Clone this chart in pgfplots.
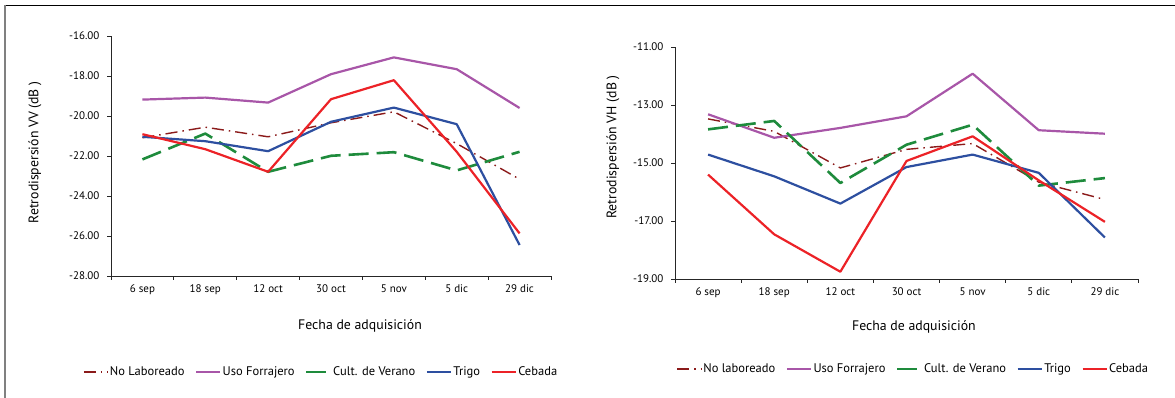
\documentclass[border=0pt]{standalone}
\usepackage{pgfplots}
\pgfplotsset{compat=1.18}
\usepackage{fontspec}
\setmainfont{PT Sans}
\definecolor{nolab}{HTML}{8B1A1A}
\definecolor{uso}{HTML}{A856A8}
\definecolor{cult}{HTML}{1E8B3C}
\definecolor{trigo}{HTML}{2D4FA0}
\definecolor{cebada}{HTML}{EC2227}

\pgfplotsset{
  mychart/.style={
    scale only axis,
    axis x line*=bottom, axis y line*=left,
    xtick pos=bottom, ytick pos=left,
    tick align=outside,
    major tick length=4pt,
    axis line style={black!85, line width=0.8pt},
    every tick/.style={black!85, line width=0.8pt},
    xmin=0.5, xmax=7.5,
    xtick={0.5,1.5,...,7.5},
    x tick label as interval,
    xticklabels={6 sep,18 sep,12 oct,30 oct,5 nov,5 dic,29 dic,},
    tick label style={font=\fontsize{11}{13}\selectfont},
    xticklabel style={yshift=-1pt},
    yticklabel style={xshift=-4pt},
    /pgf/number format/assume math mode=true,
    yticklabel style={/pgf/number format/fixed, /pgf/number format/fixed zerofill, /pgf/number format/precision=2},
    label style={font=\fontsize{13.8}{16}\selectfont},
    legend columns=-1,
    legend style={draw=none, fill=none, font=\fontsize{12.5}{14}\selectfont,
      /tikz/every even column/.append style={column sep=9pt},
      nodes={inner xsep=1.5pt}},
    legend image code/.code={\draw[#1] (0pt,0pt) -- (24pt,0pt);},
    every axis plot/.append style={line join=round},
  },
  snolab/.style={nolab, line width=1.4pt, dash pattern=on 12pt off 5pt on 1.5pt off 5pt},
  suso/.style={uso, line width=2.2pt},
  scult/.style={cult, line width=2.6pt, dash pattern=on 20pt off 8pt},
  strigo/.style={trigo, line width=2.2pt},
  sceb/.style={cebada, line width=2.2pt},
}

\begin{document}
\begin{tikzpicture}
\useasboundingbox (0pt,0pt) rectangle (1175pt,398pt);
\draw[black, line width=0.9pt] (5pt,393pt) -- (1175pt,393pt);
\draw[gray, line width=1.5pt] (5pt,393pt) -- (5pt,0pt);

% Left chart (VV)
\begin{axis}[mychart,
  at={(111pt,122pt)}, anchor=south west,
  width=440pt, height=240pt,
  ymin=-28, ymax=-16, ytick={-28,-26,...,-16},
  ylabel={Retrodispersión VV (dB )},
  ylabel style={at={(axis description cs:-0.173,0.515)}, anchor=center},
  xlabel={Fecha de adquisición},
  xlabel style={at={(axis description cs:0.566,-0.208)}, anchor=center},
  legend style={at={(axis description cs:0.477,-0.40)}, anchor=center},
]
\addplot[snolab] coordinates {(1,-21.09) (2,-20.56) (3,-21.04) (4,-20.34) (5,-19.79) (6,-21.38) (7,-23.16)};
\addlegendentry{No Laboreado}
\addplot[suso] coordinates {(1,-19.18) (2,-19.08) (3,-19.33) (4,-17.91) (5,-17.07) (6,-17.66) (7,-19.60)};
\addlegendentry{Uso Forrajero}
\addplot[scult] coordinates {(1,-22.17) (2,-20.88) (3,-22.79) (4,-21.99) (5,-21.81) (6,-22.72) (7,-21.79)};
\addlegendentry{Cult. de Verano}
\addplot[strigo] coordinates {(1,-21.04) (2,-21.26) (3,-21.76) (4,-20.29) (5,-19.58) (6,-20.41) (7,-26.45)};
\addlegendentry{Trigo}
\addplot[sceb] coordinates {(1,-20.91) (2,-21.66) (3,-22.79) (4,-19.16) (5,-18.21) (6,-21.79) (7,-25.87)};
\addlegendentry{Cebada}
\end{axis}

% Right chart (VH)
\begin{axis}[mychart,
  at={(675pt,119pt)}, anchor=south west,
  width=463pt, height=232pt,
  ymin=-19, ymax=-11, ytick={-19,-17,...,-11},
  ylabel={Retrodispersión VH (dB )},
  ylabel style={at={(axis description cs:-0.134,0.569)}, anchor=center},
  xlabel={Fecha de adquisición},
  xlabel style={at={(axis description cs:0.516,-0.207)}, anchor=center},
  legend style={at={(axis description cs:0.514,-0.388)}, anchor=center},
]
\addplot[snolab] coordinates {(1,-13.48) (2,-13.91) (3,-15.17) (4,-14.53) (5,-14.33) (6,-15.66) (7,-16.26)};
\addlegendentry{No laboreado}
\addplot[suso] coordinates {(1,-13.32) (2,-14.13) (3,-13.79) (4,-13.39) (5,-11.92) (6,-13.87) (7,-13.99)};
\addlegendentry{Uso Forrajero}
\addplot[scult] coordinates {(1,-13.84) (2,-13.55) (3,-15.69) (4,-14.37) (5,-13.68) (6,-15.78) (7,-15.52)};
\addlegendentry{Cult. de Verano}
\addplot[strigo] coordinates {(1,-14.71) (2,-15.46) (3,-16.40) (4,-15.14) (5,-14.71) (6,-15.34) (7,-17.57)};
\addlegendentry{Trigo}
\addplot[sceb] coordinates {(1,-15.40) (2,-17.46) (3,-18.75) (4,-14.93) (5,-14.08) (6,-15.60) (7,-17.03)};
\addlegendentry{Cebada}
\end{axis}
\end{tikzpicture}
\end{document}
